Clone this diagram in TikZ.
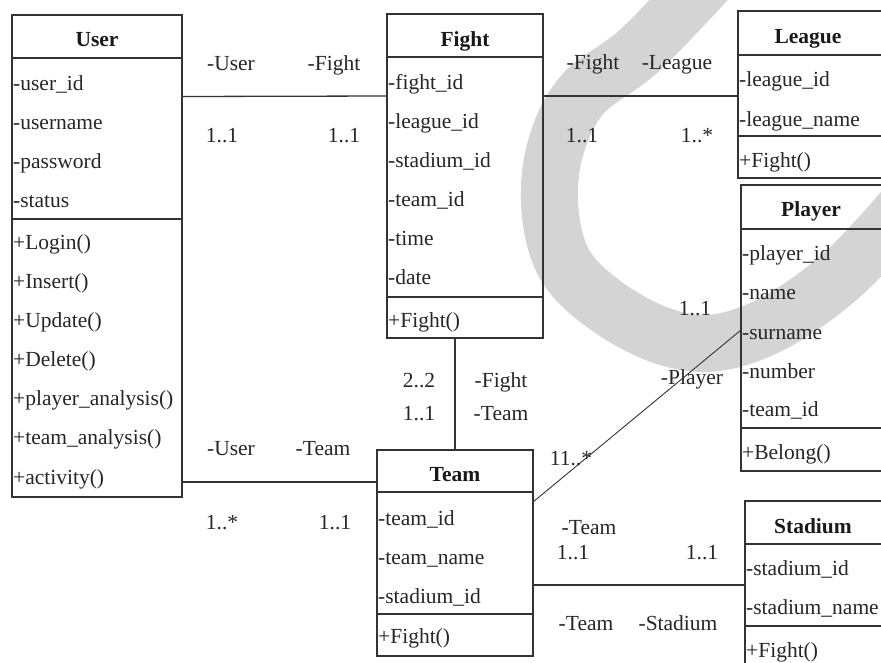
\documentclass[tikz,border=0pt]{standalone}
\usepackage{fontspec}
\setmainfont{Liberation Serif}
\begin{document}
\begin{tikzpicture}[x=1pt,y=-1pt,
  box/.style={draw=black!80, line width=1.3pt, inner sep=0pt, outer sep=0pt, rectangle},
  sepline/.style={draw=black!80, line width=1.3pt},
  conn/.style={draw=black!80, line width=1.3pt},
  thinconn/.style={draw=black!80, line width=0.9pt},
  ttl/.style={font=\fontsize{21.5}{25}\selectfont\bfseries, text=black!90, anchor=base, inner sep=0pt, yshift=-7pt},
  row/.style={font=\fontsize{21.5}{25}\selectfont, text=black!85, anchor=base west, inner sep=0pt, yshift=-7pt},
  lbl/.style={font=\fontsize{21.5}{25}\selectfont, text=black!85, anchor=base, inner sep=0pt, yshift=-7pt},
  wm/.style={draw=black!17, line width=57pt, line cap=butt}
]
\useasboundingbox (0,0) rectangle (881,662);
% watermark
\draw[wm] plot[smooth, tension=0.6] coordinates {(712,-25) (640,50) (582,95) (555,150) (550,210) (565,265) (605,305) (660,335) (713,343) (770,325) (830,285) (881,235) (945,160)};

% class boxes
\node[box, minimum width=170pt, minimum height=482pt] (user) at (97,256) {};
\node[box, minimum width=156pt, minimum height=324pt] (fight) at (465,176) {};
\node[box, minimum width=144pt, minimum height=167pt] (league) at (810,94.5) {};
\node[box, minimum width=141pt, minimum height=286pt] (player) at (811.5,328) {};
\node[box, minimum width=156pt, minimum height=206pt] (team) at (455,553) {};
\node[box, minimum width=137pt, minimum height=169pt] (stadium) at (813.5,585.5) {};

% separators
\draw[sepline] (user.west |- 0,58) -- (user.east |- 0,58);
\draw[sepline] (user.west |- 0,219) -- (user.east |- 0,219);
\draw[sepline] (fight.west |- 0,57) -- (fight.east |- 0,57);
\draw[sepline] (fight.west |- 0,297) -- (fight.east |- 0,297);
\draw[sepline] (league.west |- 0,55) -- (league.east |- 0,55);
\draw[sepline] (league.west |- 0,136) -- (league.east |- 0,136);
\draw[sepline] (player.west |- 0,229) -- (player.east |- 0,229);
\draw[sepline] (player.west |- 0,428) -- (player.east |- 0,428);
\draw[sepline] (team.west |- 0,492) -- (team.east |- 0,492);
\draw[sepline] (team.west |- 0,614) -- (team.east |- 0,614);
\draw[sepline] (stadium.west |- 0,544) -- (stadium.east |- 0,544);
\draw[sepline] (stadium.west |- 0,626) -- (stadium.east |- 0,626);

% titles
\node[ttl] (userT) at (97,39) {User};
\node[ttl] (fightT) at (465,39) {Fight};
\node[ttl] (leagueT) at (808,36) {League};
\node[ttl] (playerT) at (811,209) {Player};
\node[ttl] (teamT) at (455,474) {Team};
\node[ttl] (stadiumT) at (813,526) {Stadium};

% User rows
\node[row] (u1) at (13,83) {-user\_id};
\node[row] (u2) at (13,122) {-username};
\node[row] (u3) at (13,161) {-password};
\node[row] (u4) at (13,200) {-status};
\node[row] (u5) at (13,242) {+Login()};
\node[row] (u6) at (13,281) {+Insert()};
\node[row] (u7) at (13,320) {+Update()};
\node[row] (u8) at (13,359) {+Delete()};
\node[row] (u9) at (13,398) {+player\_analysis()};
\node[row] (u10) at (13,437) {+team\_analysis()};
\node[row] (u11) at (13,477) {+activity()};

% Fight rows
\node[row] (f1) at (388,82) {-fight\_id};
\node[row] (f2) at (388,121) {-league\_id};
\node[row] (f3) at (388,160) {-stadium\_id};
\node[row] (f4) at (388,199) {-team\_id};
\node[row] (f5) at (388,238) {-time};
\node[row] (f6) at (388,277) {-date};
\node[row] (f7) at (388,320) {+Fight()};

% League rows
\node[row] (l1) at (739,79) {-league\_id};
\node[row] (l2) at (739,119) {-league\_name};
\node[row] (l3) at (739,160) {+Fight()};

% Player rows
\node[row] (p1) at (742,253) {-player\_id};
\node[row] (p2) at (742,292) {-name};
\node[row] (p3) at (742,332) {-surname};
\node[row] (p4) at (742,371) {-number};
\node[row] (p5) at (742,409) {-team\_id};
\node[row] (p6) at (742,452) {+Belong()};

% Team rows
\node[row] (t1) at (378,518) {-team\_id};
\node[row] (t2) at (378,557) {-team\_name};
\node[row] (t3) at (378,596) {-stadium\_id};
\node[row] (t4) at (378,636) {+Fight()};

% Stadium rows
\node[row] (s1) at (746,568) {-stadium\_id};
\node[row] (s2) at (746,607) {-stadium\_name};
\node[row] (s3) at (746,650) {+Fight()};

% connectors
\draw[conn] (user.east |- 0,96.5) -- (fight.west |- 0,96);
\draw[conn] (fight.east |- 0,96) -- (league.west |- 0,96);
\draw[conn] (team.north |- fight.south) -- (team.north);
\draw[conn] (user.east |- 0,482) -- (team.west |- 0,482);
\draw[thinconn] (team.east |- 0,502) -- (player.west |- 0,330);
\draw[conn] (team.east |- 0,585) -- (stadium.west |- 0,585);

% association labels
\node[lbl] (a1) at (231,63) {-User};
\node[lbl] (a2) at (334,63) {-Fight};
\node[lbl] (a3) at (222,135) {1..1};
\node[lbl] (a4) at (344,135) {1..1};

\node[lbl] (b1) at (593,62) {-Fight};
\node[lbl] (b2) at (677,62) {-League};
\node[lbl] (b3) at (582,135) {1..1};
\node[lbl] (b4) at (697,135) {1..*};

\node[lbl] (c1) at (419,380) {2..2};
\node[lbl] (c2) at (419,413) {1..1};
\node[lbl] (c3) at (501,380) {-Fight};
\node[lbl] (c4) at (501,413) {-Team};

\node[lbl] (d1) at (231,448) {-User};
\node[lbl] (d2) at (323,448) {-Team};
\node[lbl] (d3) at (222,522) {1..*};
\node[lbl] (d4) at (335,522) {1..1};

\node[lbl] (e1) at (695,308) {1..1};
\node[lbl] (e2) at (692,377) {-Player};
\node[lbl] (e3) at (571,458) {11..*};

\node[lbl] (g1) at (589,527) {-Team};
\node[lbl] (g2) at (573,552) {1..1};
\node[lbl] (g3) at (702,552) {1..1};
\node[lbl] (g4) at (586,623) {-Team};
\node[lbl] (g5) at (678,623) {-Stadium};
\end{tikzpicture}
\end{document}
